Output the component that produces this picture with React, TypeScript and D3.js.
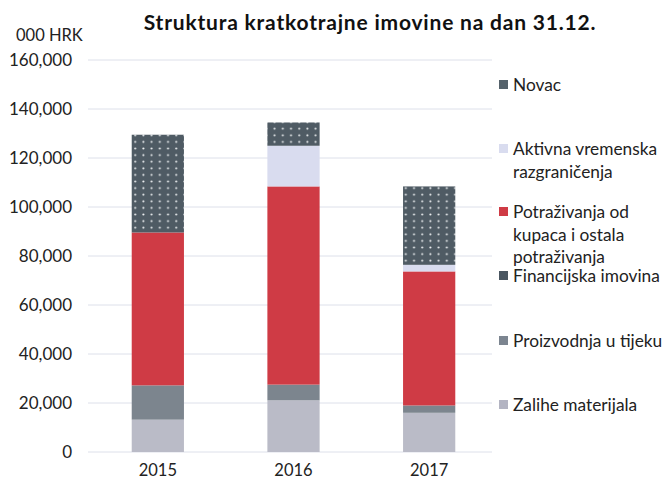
import React from "react";
import * as d3 from "d3";

const years = ["2015", "2016", "2017"];
const seriesNames = [
  "Zalihe materijala",
  "Proizvodnja u tijeku",
  "Financijska imovina",
  "Potraživanja od kupaca i ostala potraživanja",
  "Aktivna vremenska razgraničenja",
  "Novac",
];
const zalihe = [13200, 21100, 16000];
const proizvodnja = [14000, 6400, 3000];
const financijska = [0, 0, 0];
const potrazivanja = [62400, 80900, 54700];
const avr = [0, 16600, 2700];
const novac = [39900, 9500, 32000];
const yTicks = [0, 20000, 40000, 60000, 80000, 100000, 120000, 140000, 160000];

const colors = ["#babbc7", "#7c858e", "#4a5661", "#cf3b45", "#d9dcef", "url(#dots)"];
const legendColors = ["#b3b4c2", "#7c8590", "#4a5661", "#cf3b45", "#d9dcef", "#55626b"];

const legendItems = [
  { i: 5, lines: ["Novac"], y: 85 },
  { i: 4, lines: ["Aktivna vremenska", "razgraničenja"], y: 149 },
  { i: 3, lines: ["Potraživanja od", "kupaca i ostala", "potraživanja"], y: 212 },
  { i: 2, lines: ["Financijska imovina"], y: 276 },
  { i: 1, lines: ["Proizvodnja u tijeku"], y: 341 },
  { i: 0, lines: ["Zalihe materijala"], y: 405 },
];

export default function App() {
  const W = 664, H = 484;
  const font = "Lato, 'Open Sans', sans-serif";
  const x = d3.scaleBand().domain(years).range([90, 497]).paddingInner(0.615).paddingOuter(0.3075);
  const y = d3.scaleLinear().domain([0, 160000]).range([452, 60]);
  const table = years.map((yr, k) => ({
    year: yr,
    s0: zalihe[k], s1: proizvodnja[k], s2: financijska[k], s3: potrazivanja[k], s4: avr[k], s5: novac[k],
  }));
  const stack = d3.stack<any>().keys(["s0", "s1", "s2", "s3", "s4", "s5"])(table);
  return (
    <svg width={W} height={H} style={{ position: "absolute", left: 0, top: 0, background: "#fff" }}>
      <defs>
        <pattern id="dots" width="8.2" height="6.6" patternUnits="userSpaceOnUse">
          <rect width="8.2" height="6.6" fill="#4f5b64" />
          <circle cx="4" cy="3.3" r="1.05" fill="#eceef0" />
        </pattern>
      </defs>
      <rect width={W} height={H} fill="#fff" />
      <text x={370} y={30} textAnchor="middle" fontFamily={font} fontWeight={700} fontSize={21} letterSpacing={0.8} fill="#111">
        Struktura kratkotrajne imovine na dan 31.12.
      </text>
      <text x={16} y={41} fontFamily={font} fontSize={16.5} fill="#222">000 HRK</text>
      {yTicks.map((t) => (
        <g key={t}>
          <line x1={88} x2={492} y1={y(t)} y2={y(t)} stroke="#dde0ea" strokeWidth={1} />
          <text x={72} y={y(t)} dy="0.35em" textAnchor="end" fontFamily={font} fontSize={17} fill="#222">
            {d3.format(",")(t)}
          </text>
        </g>
      ))}
      {stack.map((layer, si) =>
        layer.map((d, k) =>
          d[1] - d[0] > 0 ? (
            <rect key={si + "-" + k} x={x(years[k])} width={x.bandwidth()} y={y(d[1])} height={y(d[0]) - y(d[1])} fill={colors[si]} />
          ) : null
        )
      )}
      {years.map((yr) => (
        <text key={yr} x={(x(yr) as number) + x.bandwidth() / 2} y={476} textAnchor="middle" fontFamily={font} fontSize={16.5} fill="#222">
          {yr}
        </text>
      ))}
      {legendItems.map((it) => (
        <g key={it.i}>
          <rect x={499} y={it.y - 5} width={9} height={9} fill={legendColors[it.i]} />
          {it.lines.map((ln, j) => (
            <text key={j} x={513} y={it.y + j * 22.5} dy="0.35em" fontFamily={font} fontSize={17.3} fill="#222">
              {ln}
            </text>
          ))}
        </g>
      ))}
    </svg>
  );
}
